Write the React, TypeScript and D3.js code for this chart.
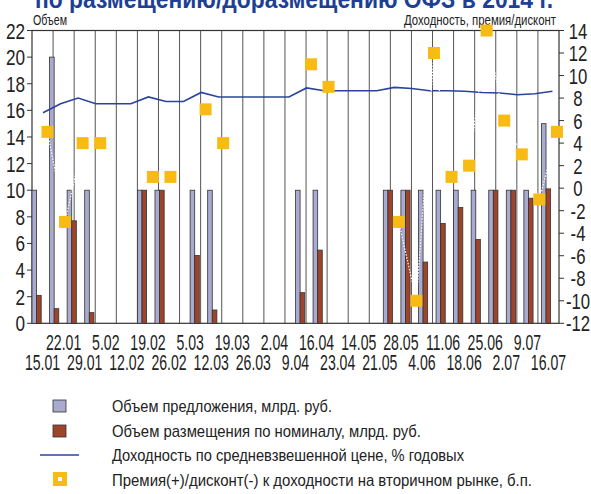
import React, { useEffect, useRef } from 'react';
import * as d3 from 'd3';

// week labels on the x axis
const weeks = ['15.01', '22.01', '29.01', '5.02', '12.02', '19.02', '26.02', '5.03', '12.03', '19.03', '26.03', '2.04', '9.04',
    '16.04', '23.04', '14.05', '21.05', '28.05', '4.06', '11.06', '18.06', '25.06', '2.07', '9.07', '16.07'];

// per auction slot (30 slots)
const offer = [10, 20, 10, 10, null, null, 10, 10, null, 10, 10, null, null, null, null, 10, 10, null, null, null, 10, 10, 10, 10, 10, 10, 10, 10, 10, 15];
const placed = [2.1, 1.1, 7.7, 0.8, null, null, 10, 10, null, 5.1, 1.0, null, null, null, null, 2.3, 5.5, null, null, null, 10, 10, 4.6, 7.5, 8.7, 6.3, 10, 10, 9.4, 10.1];
const yieldPct = [6.7, 7.5, 8.0, 7.5, 7.5, 7.5, 8.1, 7.7, 7.7, 8.5, 8.1, 8.1, 8.1, 8.1, 8.1, 8.9, 8.65, 8.65, 8.65, 8.65, 8.95, 8.85, 8.65, 8.65, 8.6, 8.5, 8.45, 8.3, 8.38, 8.6];
const premium = [5, -3, 4, 4, null, null, 1, 1, null, 7, 4, null, null, null, null, 11, 9, null, null, null, -3, -10, 12, 1, 2, 14, 6, 3, -1, 5];

const leftTicks = d3.range(0, 23, 2);
const rightTicks = d3.range(-12, 15, 2);

const legendItems = [
    'Объем предложения, млрд. руб.',
    'Объем размещения по номиналу, млрд. руб.',
    'Доходность по средневзвешенной цене, % годовых',
    'Премия(+)/дисконт(-) к доходности на вторичном рынке, б.п.',
];
const legendWidths = [220, 309, 352, 420];

const FONT = '"Liberation Sans", Arial, sans-serif';
const C_OFFER = '#a9aacf';
const C_PLACED = '#9e4429';
const C_LINE = '#2a449c';
const C_PREM = '#f8bb14';

const App = () => {
    const ref = useRef(null);

    useEffect(() => {
        const svg = d3.select(ref.current);
        svg.selectAll('*').remove();

        const left = 32, right = 559, top = 30.5, bottom = 323.3;

        const xWeek = d3.scaleBand().domain(weeks).range([left, right]);
        const xSlot = d3.scaleBand().domain(d3.range(offer.length)).range([left, right]);
        const y = d3.scaleLinear().domain([0, 22]).range([bottom, top]);
        const y2 = d3.scaleLinear().domain([-12, 14]).range([bottom, top]);

        // title (only the lower part is visible)
        svg.append('text')
            .attr('x', 35).attr('y', 8)
            .attr('textLength', 518).attr('lengthAdjust', 'spacingAndGlyphs')
            .attr('font-family', FONT).attr('font-weight', 'bold').attr('font-size', 26)
            .attr('fill', '#1d3f95')
            .text('по размещению/доразмещению ОФЗ в 2014 г.');

        // condensed look: squeeze horizontally
        const label = (x, yy, txt, size, sx, anchor) => svg.append('text')
            .attr('transform', `translate(${x},${yy}) scale(${sx},1)`)
            .attr('text-anchor', anchor)
            .attr('font-family', FONT).attr('font-size', size).attr('fill', '#222')
            .text(txt);
        const fitted = (x, yy, txt, size, len) => svg.append('text')
            .attr('x', x).attr('y', yy)
            .attr('textLength', len).attr('lengthAdjust', 'spacingAndGlyphs')
            .attr('font-family', FONT).attr('font-size', size).attr('fill', '#222')
            .text(txt);

        fitted(33, 25, 'Объем', 15, 34);
        fitted(404, 25, 'Доходность, премия/дисконт', 15, 152);

        // vertical grid at week boundaries
        weeks.slice(1).forEach(w => {
            svg.append('line')
                .attr('x1', xWeek(w)).attr('x2', xWeek(w))
                .attr('y1', top).attr('y2', bottom)
                .attr('stroke', '#555').attr('stroke-width', 1);
        });

        // frame
        svg.append('rect')
            .attr('x', left).attr('y', top)
            .attr('width', right - left).attr('height', bottom - top)
            .attr('fill', 'none').attr('stroke', '#333').attr('stroke-width', 1.2);

        leftTicks.forEach(t => {
            svg.append('line').attr('x1', left - 5).attr('x2', left).attr('y1', y(t)).attr('y2', y(t)).attr('stroke', '#333');
            label(25, y(t) + 8, String(t), 22, 0.78, 'end');
        });
        rightTicks.forEach(t => {
            svg.append('line').attr('x1', right).attr('x2', right + 5).attr('y1', y2(t)).attr('y2', y2(t)).attr('stroke', '#333');
            label(578, y2(t) + 8, String(t), 22, 0.76, 'middle');
        });

        // x labels in two rows
        weeks.forEach((w, i) => {
            const cx = xWeek(w) + xWeek.bandwidth() / 2;
            label(cx, i % 2 ? 350 : 369.5, w, 22, 0.64, 'middle');
        });

        const bw = 4.6;
        offer.forEach((v, k) => {
            if (v == null) return;
            svg.append('rect')
                .attr('x', xSlot(k)).attr('y', y(v))
                .attr('width', bw).attr('height', y(0) - y(v))
                .attr('fill', C_OFFER).attr('stroke', '#333').attr('stroke-width', 0.8);
        });
        placed.forEach((v, k) => {
            if (v == null) return;
            svg.append('rect')
                .attr('x', xSlot(k) + bw).attr('y', y(v))
                .attr('width', bw).attr('height', y(0) - y(v))
                .attr('fill', C_PLACED).attr('stroke', '#333').attr('stroke-width', 0.8);
        });

        // yield line
        const line = d3.line()
            .x((d, k) => xSlot(k) + 11)
            .y(d => y2(d));
        svg.append('path')
            .attr('d', line(yieldPct))
            .attr('fill', 'none').attr('stroke', C_LINE).attr('stroke-width', 1.6);

        // premium: white dotted connector + squares
        const pLine = d3.line()
            .defined(d => d != null)
            .x((d, k) => xSlot(k) + 15.5)
            .y(d => y2(d));
        svg.append('path')
            .attr('d', pLine(premium))
            .attr('fill', 'none').attr('stroke', '#fff').attr('stroke-width', 1.2)
            .attr('stroke-dasharray', '1.5,1.5');

        const sq = 12;
        premium.forEach((v, k) => {
            if (v == null) return;
            svg.append('rect')
                .attr('x', xSlot(k) + 15.5 - sq / 2).attr('y', y2(v) - sq / 2)
                .attr('width', sq).attr('height', sq)
                .attr('fill', C_PREM);
        });

        // legend
        const lx = 112;
        const rows = [412, 437, 461, 486];
        svg.append('rect').attr('x', 53).attr('y', 400).attr('width', 13).attr('height', 12)
            .attr('fill', C_OFFER).attr('stroke', '#333').attr('stroke-width', 0.8);
        svg.append('rect').attr('x', 53).attr('y', 425).attr('width', 13).attr('height', 12)
            .attr('fill', C_PLACED).attr('stroke', '#333').attr('stroke-width', 0.8);
        svg.append('line').attr('x1', 40).attr('x2', 79).attr('y1', 455).attr('y2', 455)
            .attr('stroke', C_LINE).attr('stroke-width', 1.6);
        svg.append('rect').attr('x', 53).attr('y', 472).attr('width', 14).attr('height', 14).attr('fill', C_PREM);
        svg.append('rect').attr('x', 58).attr('y', 477).attr('width', 4).attr('height', 4).attr('fill', '#fff');

        legendItems.forEach((t, i) => {
            fitted(lx, rows[i], t, 17, legendWidths[i]);
        });
    }, []);

    return (
        <svg ref={ref} width={591} height={494}
            style={{ position: 'absolute', left: 0, top: 0, background: '#fff' }} />
    );
};

export default App;
